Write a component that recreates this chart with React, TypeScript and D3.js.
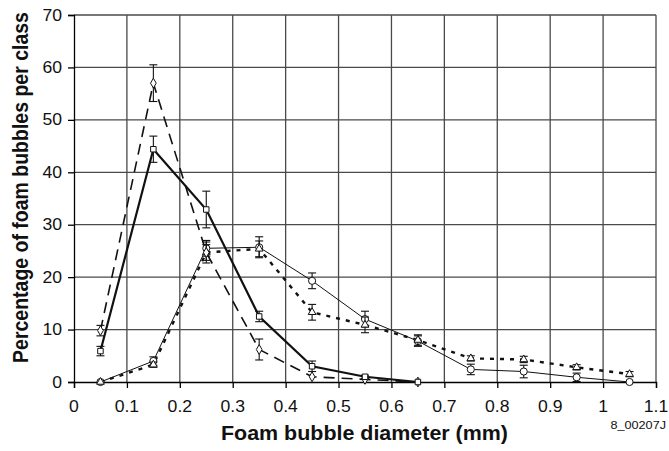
import React, { useEffect, useRef } from 'react';
import * as d3 from 'd3';

const diameters = [0.05, 0.15, 0.25, 0.35, 0.45, 0.55, 0.65, 0.75, 0.85, 0.95, 1.05];

const squareVals = [5.9, 44.4, 32.9, 12.5, 3.0, 1.0, 0];
const squareErr = [0.9, 2.5, 3.5, 1.0, 1.0, 0.3, 0];
const diamondVals = [9.8, 57.0, 24.7, 6.2, 1.0, 0.5, 0];
const diamondErr = [1.0, 3.5, 2.0, 2.0, 0, 0, 0];
const circleVals = [0, 4.0, 25.5, 25.7, 19.3, 12.0, 7.8, 2.4, 2.0, 0.9, 0];
const circleErr = [0, 0.8, 1.5, 2.0, 1.5, 1.5, 1.0, 1.0, 1.2, 0.8, 0];
const triangleVals = [0, 3.3, 24.7, 25.4, 13.3, 10.9, 8.0, 4.5, 4.3, 2.8, 1.5];
const triangleErr = [0, 0.5, 1.5, 1.5, 1.5, 1.5, 1.0, 0.5, 0.6, 0.5, 0.5];

const xTicks = [0, 0.1, 0.2, 0.3, 0.4, 0.5, 0.6, 0.7, 0.8, 0.9, 1, 1.1];
const yTicks = [0, 10, 20, 30, 40, 50, 60, 70];

export default function App() {
  const ref = useRef<SVGSVGElement>(null);

  useEffect(() => {
    const svg = d3.select(ref.current);
    svg.selectAll('*').remove();
    const font = 'Liberation Sans, Arial, sans-serif';
    const left = 74, right = 656, top = 15, bottom = 382;
    const stretch = 1.1;

    const x = d3.scaleLinear().domain([0, 1.1]).range([left, right]);
    const y = d3.scaleLinear().domain([0, 70]).range([bottom, top]);

    // grid
    const grid = svg.append('g');
    grid.selectAll('.vg').data(xTicks.slice(1)).enter().append('line')
      .attr('x1', d => x(d)).attr('x2', d => x(d)).attr('y1', top).attr('y2', bottom)
      .attr('stroke', '#4a4a4a').attr('stroke-width', 1.3);
    grid.selectAll('.hg').data(yTicks.slice(1)).enter().append('line')
      .attr('x1', left).attr('x2', right).attr('y1', d => y(d)).attr('y2', d => y(d))
      .attr('stroke', '#4a4a4a').attr('stroke-width', 1.3);

    // axes (labels drawn separately, slightly wide like the source)
    const xAxis = d3.axisBottom(x).tickValues(xTicks).tickSize(6).tickFormat(() => '');
    const gx = svg.append('g').attr('transform', `translate(0,${bottom})`).call(xAxis);
    const yAxis = d3.axisLeft(y).tickValues(yTicks).tickSize(6).tickFormat(() => '');
    const gy = svg.append('g').attr('transform', `translate(${left},0)`).call(yAxis);
    [gx, gy].forEach(g => {
      g.select('.domain').attr('stroke', '#000').attr('stroke-width', 1.3);
      g.selectAll('.tick line').attr('stroke', '#000').attr('stroke-width', 1.3);
    });

    svg.append('g').selectAll('text').data(xTicks).enter().append('text')
      .attr('transform', d => `translate(${x(d)},411.5) scale(${stretch},1)`)
      .attr('text-anchor', 'middle').attr('font-family', font).attr('font-size', 16)
      .attr('fill', '#111').text(d => String(+d.toFixed(1)));
    svg.append('g').selectAll('text').data(yTicks).enter().append('text')
      .attr('transform', d => `translate(${left - 12},${y(d) + 5.6}) scale(${stretch},1)`)
      .attr('text-anchor', 'end').attr('font-family', font).attr('font-size', 16)
      .attr('fill', '#111').text(d => String(d));

    const series = [
      { vals: circleVals, err: circleErr, marker: 'circle', width: 1, dash: null },
      { vals: triangleVals, err: triangleErr, marker: 'triangle', width: 2.4, dash: '4,6' },
      { vals: diamondVals, err: diamondErr, marker: 'diamond', width: 1.6, dash: '11,7' },
      { vals: squareVals, err: squareErr, marker: 'square', width: 2.2, dash: null },
    ];

    const line = d3.line<number>().x((d, i) => x(diameters[i])).y(d => y(d));

    series.forEach(s => {
      const p = svg.append('path').datum(s.vals).attr('d', line)
        .attr('fill', 'none').attr('stroke', '#111').attr('stroke-width', s.width);
      if (s.dash) p.attr('stroke-dasharray', s.dash);
    });

    series.forEach(s => {
      const g = svg.append('g');
      s.vals.forEach((v, i) => {
        const e = s.err[i];
        const cx = x(diameters[i]);
        if (e > 0) {
          g.append('line').attr('x1', cx).attr('x2', cx).attr('y1', y(v - e)).attr('y2', y(v + e))
            .attr('stroke', '#111').attr('stroke-width', 1.1);
          [v - e, v + e].forEach(c => {
            g.append('line').attr('x1', cx - 4).attr('x2', cx + 4).attr('y1', y(c)).attr('y2', y(c))
              .attr('stroke', '#111').attr('stroke-width', 1.1);
          });
        }
      });
      const sym = s.marker === 'circle' ? d3.symbolCircle
        : s.marker === 'triangle' ? d3.symbolTriangle
        : s.marker === 'diamond' ? d3.symbolDiamond : d3.symbolSquare;
      const size = s.marker === 'circle' ? 40 : s.marker === 'square' ? 30 : s.marker === 'diamond' ? 28 : 26;
      g.selectAll('path').data(s.vals).enter().append('path')
        .attr('d', d3.symbol().type(sym).size(size))
        .attr('transform', (d, i) => `translate(${x(diameters[i])},${y(d)})`)
        .attr('fill', '#fff').attr('stroke', '#111').attr('stroke-width', 1);
    });

    svg.append('text')
      .attr('transform', `translate(28,187.5) rotate(-90) scale(1,${stretch})`)
      .attr('text-anchor', 'middle').attr('font-family', font).attr('font-weight', 'bold')
      .attr('font-size', 19.5).attr('fill', '#111')
      .text('Percentage of foam bubbles per class');

    svg.append('text')
      .attr('transform', `translate(364.5,440) scale(${stretch},1)`)
      .attr('text-anchor', 'middle').attr('font-family', font).attr('font-weight', 'bold')
      .attr('font-size', 19.5).attr('fill', '#111')
      .text('Foam bubble diameter (mm)');

    svg.append('text')
      .attr('transform', `translate(666,429) scale(1.15,1)`)
      .attr('text-anchor', 'end').attr('font-family', font)
      .attr('font-size', 11).attr('fill', '#111')
      .text('8_00207J');
  }, []);

  return (
    <svg ref={ref} width={669} height={451}
      style={{ position: 'absolute', left: 0, top: 0, background: '#fff' }} />
  );
}
